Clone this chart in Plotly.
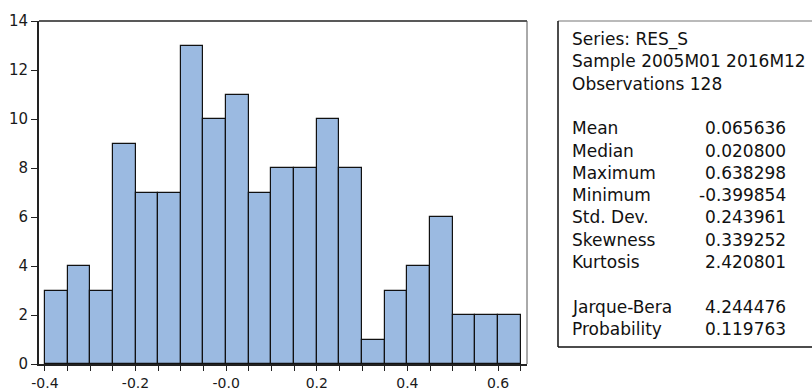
import plotly.graph_objects as go

# ---- data ----
bin_left_edges = [-0.40, -0.35, -0.30, -0.25, -0.20, -0.15, -0.10, -0.05, 0.00, 0.05,
                  0.10, 0.15, 0.20, 0.25, 0.30, 0.35, 0.40, 0.45, 0.50, 0.55, 0.60]
counts = [3, 4, 3, 9, 7, 7, 13, 10, 11, 7, 8, 8, 10, 8, 1, 3, 4, 6, 2, 2, 2]
bin_width = 0.05

x_tick_vals = [-0.4, -0.2, 0.0, 0.2, 0.4, 0.6]
x_tick_text = ["-0.4", "-0.2", "-0.0", "0.2", "0.4", "0.6"]
y_tick_vals = [0, 2, 4, 6, 8, 10, 12, 14]

header_lines = ["Series: RES_S", "Sample 2005M01 2016M12", "Observations 128"]
stat_names = ["Mean", "Median", "Maximum", "Minimum", "Std. Dev.", "Skewness", "Kurtosis"]
stat_values = ["0.065636", "0.020800", "0.638298", "-0.399854", "0.243961", "0.339252", "2.420801"]
test_names = ["Jarque-Bera", "Probability"]
test_values = ["4.244476", "0.119763"]

# ---- layout geometry (pixels) ----
W, H = 812, 390
L, R, T, B = 39, 527, 21, 364
pw, ph = R - L, B - T

def px_x(px):
    return (px - L) / pw

def px_y(py):
    return (B - py) / ph

FONT = "DejaVu Sans"

fig = go.Figure()
fig.add_trace(go.Bar(
    x=[e + bin_width / 2 for e in bin_left_edges],
    y=counts,
    width=bin_width,
    marker=dict(color="#9BBAE1", line=dict(color="#111111", width=1.2)),
    hoverinfo="x+y",
))

fig.update_layout(
    width=W, height=H,
    margin=dict(l=L, r=W - R, t=T, b=H - B, pad=0, autoexpand=False),
    paper_bgcolor="white", plot_bgcolor="white",
    showlegend=False,
    bargap=0,
    font=dict(family=FONT, size=15, color="#1a1a1a"),
)
fig.update_xaxes(
    range=[-0.413, 0.664], automargin=False,
    tickmode="array", tickvals=x_tick_vals, ticktext=x_tick_text,
    ticks="outside", ticklen=5, tickwidth=1.2, tickcolor="#222",
    minor=dict(tickmode="linear", tick0=-0.4, dtick=0.05, ticks="outside",
               ticklen=5, tickwidth=1.2, tickcolor="#222", showgrid=False),
    showline=True, linewidth=2, linecolor="#222", mirror=False,
    showgrid=False, zeroline=False,
    tickfont=dict(family=FONT, size=14),
)
fig.update_yaxes(
    range=[0, 14], automargin=False,
    tickmode="array", tickvals=y_tick_vals,
    ticks="outside", ticklen=6, tickwidth=1.2, tickcolor="#222",
    showline=True, linewidth=2, linecolor="#222", mirror=False,
    showgrid=False, zeroline=False,
    tickfont=dict(family=FONT, size=15),
)

# top and right frame lines of the plot
fig.add_shape(type="line", xref="paper", yref="paper", x0=0, x1=1, y0=1, y1=1,
              line=dict(color="#222", width=1.5))
fig.add_shape(type="line", xref="paper", yref="paper", x0=1, x1=1, y0=0, y1=1,
              line=dict(color="#555", width=1))

# statistics box
bx0, bx1, by0, by1 = 558, 830, 21, 347
fig.add_shape(type="line", xref="paper", yref="paper",
              x0=px_x(bx0), x1=px_x(bx1), y0=px_y(by0), y1=px_y(by0),
              line=dict(color="#777", width=1.2))
fig.add_shape(type="line", xref="paper", yref="paper",
              x0=px_x(bx0), x1=px_x(bx1), y0=px_y(by1), y1=px_y(by1),
              line=dict(color="#111", width=1.5))
fig.add_shape(type="line", xref="paper", yref="paper",
              x0=px_x(bx0), x1=px_x(bx0), y0=px_y(by0), y1=px_y(by1),
              line=dict(color="#111", width=1.5))

rows = []  # (row index, label, value)
for i, s in enumerate(header_lines):
    rows.append((i, s, None))
for i, (n, v) in enumerate(zip(stat_names, stat_values)):
    rows.append((4 + i, n, v))
for i, (n, v) in enumerate(zip(test_names, test_values)):
    rows.append((12 + i, n, v))

label_x, value_x = 570, 788
row0, row_step = 39, 22.3
for idx, lab, val in rows:
    yy = px_y(row0 + idx * row_step)
    fig.add_annotation(x=px_x(label_x), y=yy, xref="paper", yref="paper",
                       text=lab, showarrow=False, xanchor="left", yanchor="middle",
                       font=dict(family=FONT, size=17, color="#111"))
    if val is not None:
        fig.add_annotation(x=px_x(value_x), y=yy, xref="paper", yref="paper",
                           text=val, showarrow=False, xanchor="right", yanchor="middle",
                           font=dict(family=FONT, size=17, color="#111"))

fig.write_html("out.html",
               config={"displayModeBar": False},
               post_script="document.body.style.margin='0';document.body.style.overflow='hidden';")
